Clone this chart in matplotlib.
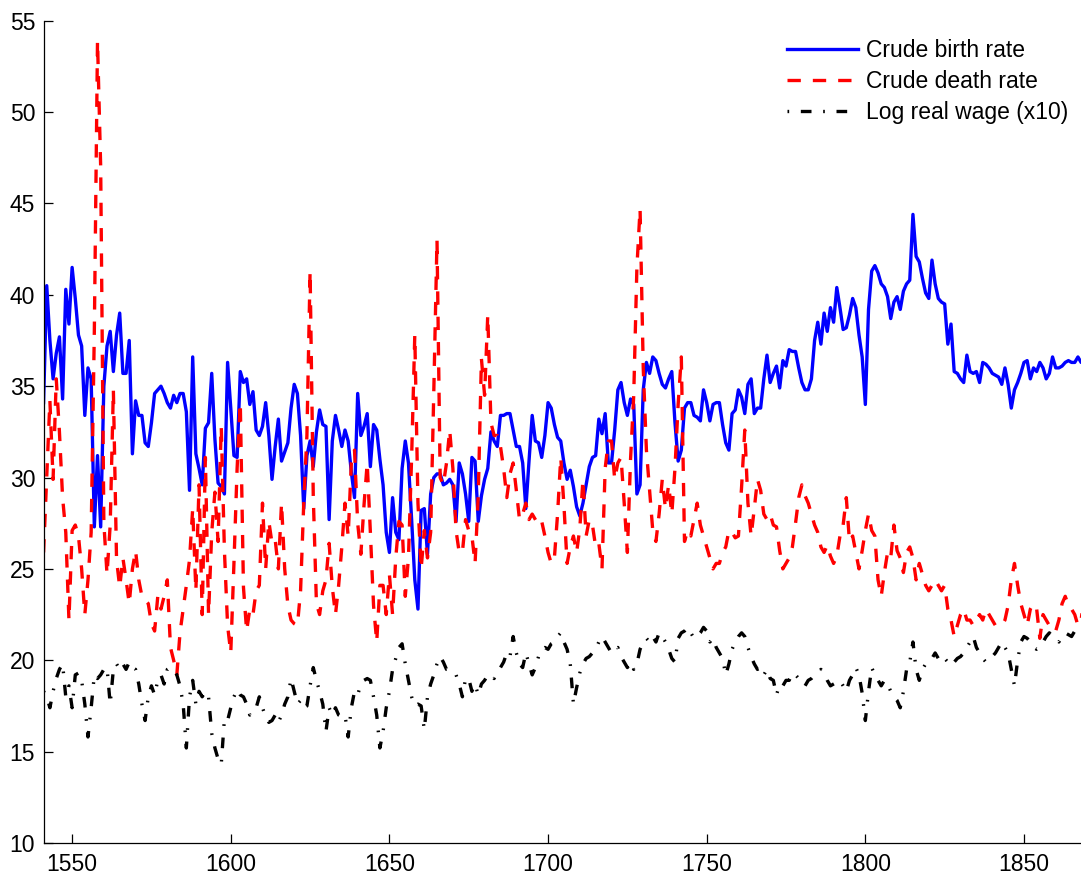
import numpy as np
import matplotlib
matplotlib.use('Agg')
import matplotlib.pyplot as plt

plt.rcParams['font.family'] = ['Liberation Sans', 'DejaVu Sans']

# annual series, 1541 onwards (one row = ten years)
first_year = 1541

birth_rate = [
    34.1, 40.5, 37.5, 35.4, 36.8, 37.7, 34.3, 40.3, 38.4, 41.5,
    39.8, 37.8, 37.2, 33.4, 36.0, 35.4, 27.3, 31.2, 27.3, 35.0,
    37.2, 38.0, 35.8, 37.8, 39.0, 35.7, 35.7, 37.5, 31.3, 34.2,
    33.4, 33.4, 31.9, 31.7, 33.0, 34.6, 34.8, 35.0, 34.6, 34.1,
    33.8, 34.5, 34.1, 34.6, 34.6, 33.6, 29.3, 36.6, 31.3, 30.5,
    29.6, 32.7, 33.0, 35.7, 32.1, 29.7, 29.5, 29.1, 36.3, 33.8,
    31.2, 31.1, 35.8, 35.2, 35.4, 34.0, 34.7, 32.6, 32.3, 32.8,
    34.1, 32.3, 29.9, 31.7, 33.2, 30.9, 31.4, 31.9, 33.8, 35.1,
    34.6, 32.3, 28.3, 31.2, 32.0, 30.6, 32.5, 33.7, 32.9, 32.8,
    27.7, 32.0, 33.4, 32.6, 31.7, 32.6, 32.0, 30.3, 28.9, 34.6,
    32.3, 32.8, 33.5, 30.6, 32.9, 32.6, 31.0, 29.6, 27.0, 25.9,
    28.9, 27.0, 26.6, 30.5, 32.0, 30.8, 27.7, 24.4, 22.8, 28.2,
    28.3, 25.8, 29.1, 30.0, 30.2, 30.2, 29.6, 29.7, 29.9, 29.6,
    27.6, 30.8, 30.2, 29.1, 27.6, 31.1, 30.9, 27.6, 29.0, 29.9,
    30.5, 32.5, 32.0, 31.7, 33.4, 33.4, 33.5, 33.5, 32.6, 31.7,
    31.7, 30.8, 28.3, 30.9, 33.4, 32.0, 31.9, 31.1, 32.3, 34.1,
    33.8, 32.9, 32.2, 32.0, 30.8, 29.9, 30.4, 29.5, 28.4, 27.9,
    28.6, 29.6, 30.6, 31.1, 31.2, 33.2, 32.4, 33.5, 30.8, 30.8,
    32.6, 34.8, 35.2, 34.1, 33.4, 34.3, 34.0, 29.1, 29.6, 34.8,
    36.3, 35.7, 36.6, 36.4, 35.7, 35.1, 34.9, 35.4, 35.8, 33.0,
    30.9, 31.5, 33.8, 34.1, 34.1, 33.4, 33.3, 33.1, 34.8, 34.1,
    33.1, 34.0, 34.1, 34.1, 32.9, 31.9, 31.5, 33.5, 33.7, 34.8,
    34.4, 33.5, 35.1, 35.4, 33.5, 33.8, 33.8, 35.4, 36.7, 35.2,
    35.7, 36.1, 34.9, 36.4, 36.1, 37.0, 36.9, 36.9, 36.0, 35.2,
    34.8, 34.8, 35.4, 37.5, 38.5, 37.3, 39.0, 38.0, 39.3, 38.5,
    40.4, 39.3, 38.1, 38.2, 38.9, 39.8, 39.3, 37.8, 36.6, 34.0,
    39.2, 41.3, 41.6, 41.2, 40.6, 40.4, 39.9, 38.7, 39.6, 39.9,
    39.2, 40.2, 40.6, 40.8, 44.4, 42.1, 41.8, 40.9, 40.1, 39.8,
    41.9, 40.6, 39.8, 39.6, 39.5, 37.3, 38.4, 35.8, 35.7, 35.4,
    35.2, 36.7, 35.8, 35.7, 35.8, 35.2, 36.3, 36.2, 36.0, 35.7,
    35.6, 35.5, 35.1, 36.0, 35.1, 33.8, 34.8, 35.2, 35.7, 36.3,
    36.4, 35.4, 36.0, 35.8, 36.3, 36.0, 35.4, 35.7, 36.6, 36.0,
    36.0, 36.1, 36.3, 36.4, 36.3, 36.3, 36.6, 36.3, 36.5, 36.2,
    35.8,
]

death_rate = [
    25.9, 30.0, 34.2, 29.9, 35.4, 32.5, 28.9, 27.0, 22.2, 27.1,
    27.4, 26.8, 25.0, 22.5, 24.4, 27.0, 38.0, 53.9, 47.0, 27.5,
    24.7, 27.4, 34.8, 25.5, 24.0, 25.6, 24.4, 23.1, 25.0, 26.0,
    24.4, 23.5, 23.3, 23.1, 22.0, 21.6, 23.5, 22.8, 23.5, 24.4,
    20.7, 20.0, 19.2, 21.5, 22.8, 24.1, 25.5, 28.3, 23.8, 29.6,
    22.5, 31.1, 22.5, 27.0, 29.2, 26.5, 32.8, 26.0, 21.9, 20.4,
    25.3, 30.5, 34.1, 24.0, 21.6, 22.8, 22.5, 23.8, 24.1, 28.6,
    25.0, 27.6, 26.4, 26.6, 25.0, 28.6, 25.0, 23.0, 22.2, 22.0,
    21.9, 23.8, 28.6, 32.3, 41.3, 29.0, 23.1, 22.5, 23.8, 24.4,
    26.4, 24.0, 22.5, 24.1, 26.2, 28.6, 26.8, 30.8, 31.5, 27.5,
    25.8, 28.5, 30.8, 27.0, 23.0, 21.0, 24.1, 24.1, 22.5, 24.7,
    22.5, 25.6, 27.6, 27.4, 23.5, 25.6, 31.1, 37.8, 28.6, 25.0,
    27.1, 25.6, 27.0, 34.8, 43.0, 30.0, 29.6, 30.8, 32.6, 30.5,
    27.1, 25.9, 25.9, 27.7, 27.1, 26.8, 25.3, 29.0, 36.5, 34.5,
    38.9, 33.0, 32.3, 32.3, 31.7, 30.5, 28.9, 30.2, 30.8, 29.3,
    27.7, 28.0, 28.6, 27.7, 28.0, 27.7, 27.4, 27.6, 26.8, 25.9,
    25.3, 25.6, 28.0, 31.1, 28.5, 25.3, 26.2, 26.8, 25.9, 27.2,
    29.9, 26.8, 27.7, 27.4, 26.2, 26.4, 25.0, 30.5, 32.0, 32.0,
    29.9, 30.8, 31.1, 28.6, 25.9, 31.0, 34.5, 41.5, 44.7, 36.0,
    31.5, 29.3, 27.1, 26.5, 28.0, 29.9, 28.3, 29.6, 28.0, 30.5,
    34.0, 36.6, 26.5, 27.1, 26.8, 27.7, 28.6, 27.4, 26.8, 26.2,
    25.6, 25.0, 25.3, 25.3, 25.9, 26.2, 27.1, 27.0, 26.7, 26.8,
    29.5, 32.6, 28.6, 26.8, 28.3, 29.9, 29.3, 28.0, 27.7, 28.0,
    27.4, 27.3, 26.0, 25.0, 25.3, 25.6, 26.2, 27.5, 28.9, 29.6,
    29.0, 28.6, 28.0, 27.4, 27.0, 26.2, 25.9, 26.3, 25.7, 25.3,
    25.7, 26.8, 27.4, 28.9, 26.5, 26.8, 25.9, 25.0, 26.0, 27.1,
    28.0, 27.1, 26.8, 24.4, 23.5, 24.8, 25.9, 25.6, 27.4, 26.0,
    25.6, 24.8, 25.9, 26.2, 25.6, 24.4, 25.3, 24.7, 24.1, 23.8,
    24.1, 24.4, 24.1, 23.8, 24.1, 22.8, 22.2, 21.3, 21.9, 22.5,
    22.8, 22.2, 22.2, 21.9, 22.2, 22.5, 22.2, 22.8, 22.5, 22.2,
    21.9, 21.9, 21.9, 22.2, 23.0, 24.4, 25.3, 24.1, 23.1, 22.5,
    21.9, 22.8, 23.1, 22.8, 21.2, 22.5, 22.2, 21.9, 21.6, 21.6,
    22.2, 23.1, 23.5, 23.0, 22.8, 22.5, 21.9, 22.2, 23.5, 22.0,
    21.5,
]

log_wage_x10 = [
    18.3, 18.0, 17.4, 18.3, 19.0, 19.5, 19.8, 18.0, 18.6, 17.4,
    19.2, 19.3, 18.9, 17.6, 15.8, 17.4, 19.2, 19.0, 19.2, 19.5,
    19.6, 17.6, 19.5, 19.8, 19.5, 19.8, 19.5, 19.9, 19.6, 19.5,
    18.7, 17.6, 16.7, 18.0, 18.6, 18.1, 18.9, 19.2, 18.7, 19.5,
    19.6, 19.5, 19.2, 18.6, 17.6, 15.2, 18.0, 18.9, 17.6, 18.3,
    18.0, 18.3, 18.0, 16.0, 15.2, 14.6, 14.3, 16.8, 16.7, 17.4,
    18.0, 18.4, 18.1, 18.0, 17.6, 17.0, 17.2, 17.4, 18.0, 17.4,
    16.9, 16.6, 16.7, 17.0, 16.6, 17.0, 17.6, 18.0, 19.0, 18.3,
    17.6, 17.8, 17.4, 17.5, 18.6, 19.6, 18.9, 18.3, 17.6, 16.1,
    17.4, 17.0, 17.4, 17.0, 16.9, 17.0, 15.8, 17.4, 18.3, 18.1,
    18.7, 18.9, 19.0, 18.9, 18.0, 17.0, 15.2, 16.1, 17.4, 18.3,
    19.5, 20.1, 20.7, 20.9, 19.8, 18.9, 18.0, 17.5, 17.6, 17.5,
    16.2, 18.0, 18.7, 19.2, 19.8, 20.2, 19.9, 19.5, 19.5, 19.3,
    19.2, 18.7, 18.0, 19.0, 19.0, 18.3, 18.7, 18.1, 18.7, 18.9,
    19.2, 19.2, 19.0, 19.3, 19.6, 19.9, 20.4, 20.2, 21.3, 20.4,
    19.8, 19.6, 20.4, 19.8, 19.2, 19.6, 20.2, 20.6, 20.7, 20.6,
    20.9, 21.0, 21.3, 21.5, 21.0, 20.6, 19.8, 17.6, 18.5, 19.3,
    19.8, 20.1, 20.2, 20.4, 20.6, 21.0, 21.3, 21.0, 20.7, 20.4,
    20.6, 20.7, 20.2, 19.9, 19.6, 19.9, 19.5, 19.8, 20.6, 21.0,
    21.2, 21.0, 21.3, 21.0, 21.5, 21.3, 21.0, 20.6, 20.1, 19.9,
    21.2, 21.5, 21.6, 21.8, 21.5, 21.2, 21.3, 21.5, 21.8, 21.6,
    21.0, 21.2, 20.7, 20.4, 20.1, 19.2, 19.8, 20.6, 21.0, 21.3,
    21.5, 21.3, 20.7, 20.2, 19.8, 19.5, 19.6, 19.2, 19.5, 19.0,
    18.9, 18.1, 18.7, 18.6, 18.9, 18.9, 19.3, 19.2, 19.0, 18.7,
    18.6, 18.9, 19.0, 19.2, 19.3, 19.5, 19.3, 18.9, 18.6, 18.7,
    18.8, 18.9, 18.6, 18.3, 18.9, 19.2, 19.6, 19.2, 18.2, 16.7,
    18.3, 19.6, 19.2, 18.9, 18.6, 18.9, 18.7, 18.3, 18.0, 17.8,
    17.4, 18.3, 19.5, 19.9, 21.0, 19.5, 18.9, 19.5, 19.8, 19.9,
    20.1, 20.4, 20.1, 19.9, 20.1, 19.9, 20.1, 19.9, 20.1, 20.2,
    20.4, 20.7, 21.0, 21.3, 20.7, 20.4, 20.1, 19.9, 20.1, 20.2,
    20.4, 20.7, 21.0, 20.7, 20.4, 19.5, 18.6, 20.0, 21.0, 21.3,
    21.2, 21.0, 20.7, 20.6, 20.7, 21.0, 21.3, 21.5, 21.3, 21.2,
    21.0, 21.3, 21.5, 21.4, 21.3, 21.6, 21.8, 21.6, 21.7, 21.5,
    21.8,
]

years = np.arange(first_year, first_year + len(birth_rate))

fig = plt.figure(figsize=(10.81, 8.75), dpi=100)
ax = fig.add_axes([0.0403, 0.0366, 0.9686, 0.9397])

ax.plot(years, birth_rate, color='#0000ff', lw=2.4, label='Crude birth rate')
ax.plot(years, death_rate, color='#ff0000', lw=2.4, dashes=(4, 3.6),
        label='Crude death rate')
# dot first, then dash, like the matlab legend sample
ax.plot(years, log_wage_x10, color='black', lw=2.4,
        linestyle=(0, (0.5, 3.5, 3.2, 3.5)), label='Log real wage (x10)')

ax.set_xlim(1541, 1871)
ax.set_ylim(10, 55)
ax.set_xticks(range(1550, 1851, 50))
ax.set_yticks(range(10, 56, 5))

ax.spines['top'].set_visible(False)
ax.spines['right'].set_visible(False)
for s in ('left', 'bottom'):
    ax.spines[s].set_linewidth(0.9)
ax.tick_params(direction='in', length=6.5, width=0.9, labelsize=16.5)
ax.tick_params(axis='x', pad=7)
ax.tick_params(axis='y', pad=6)

ax.legend(loc='upper left', bbox_to_anchor=(0.7277, 0.955),
          bbox_transform=fig.transFigure, frameon=False, fontsize=16.5,
          handlelength=3.1, handletextpad=0.35, labelspacing=0.34,
          borderpad=0, borderaxespad=0)

fig.savefig('out.png', dpi=100)
